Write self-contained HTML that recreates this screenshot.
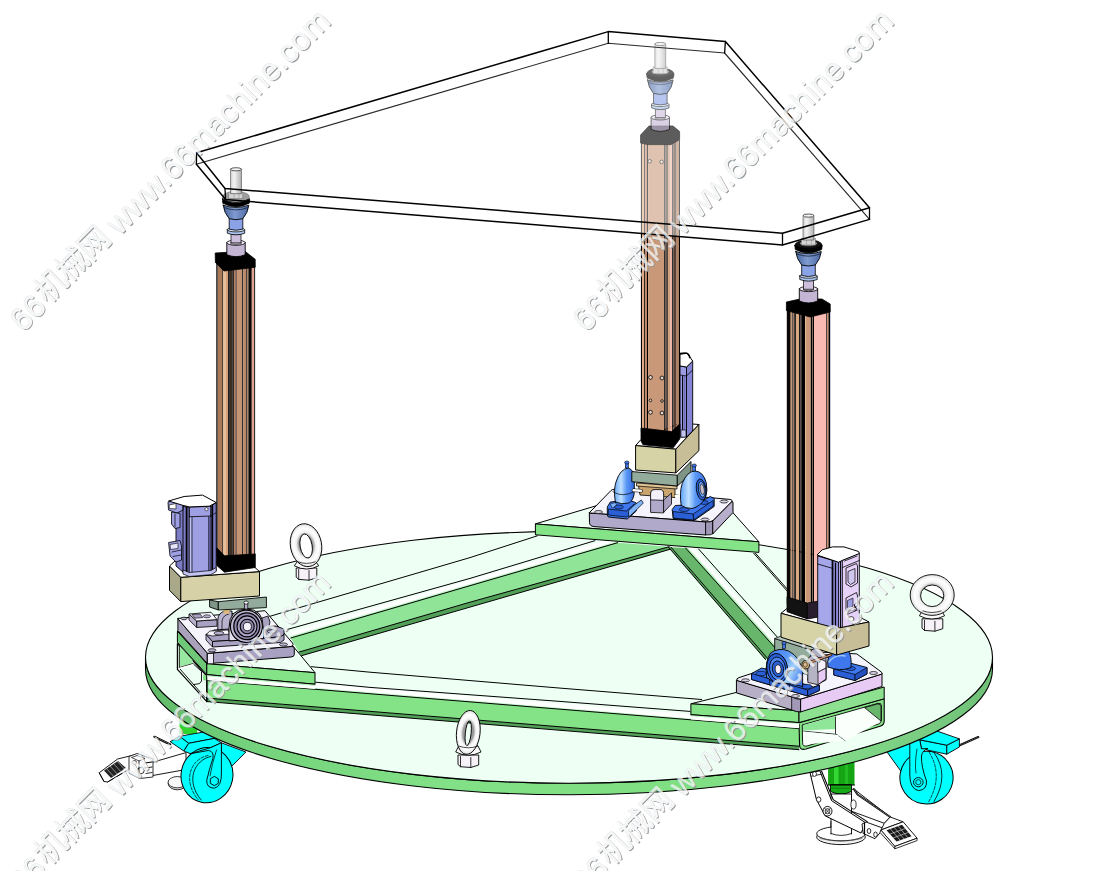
<!DOCTYPE html>
<html><head><meta charset="utf-8"><title>platform</title>
<style>html,body{margin:0;padding:0;background:#fff;}svg{display:block;font-family:"Liberation Sans",sans-serif;}</style>
</head><body>
<svg width="1110" height="871" viewBox="0 0 1110 871">
<rect width="1110" height="871" fill="#fff"/>
<defs>
<linearGradient id="rim" x1="145" x2="993" y1="0" y2="0" gradientUnits="userSpaceOnUse">
<stop offset="0" stop-color="#5fb868"/><stop offset="0.12" stop-color="#74d27c"/><stop offset="0.35" stop-color="#82e086"/>
<stop offset="0.6" stop-color="#7fdf82"/><stop offset="0.8" stop-color="#82dc88"/><stop offset="0.92" stop-color="#7acc82"/><stop offset="1" stop-color="#6ec076"/></linearGradient>
<mask id="wmm" maskUnits="userSpaceOnUse" x="-10" y="-40" width="480" height="60"><rect x="-10" y="-40" width="480" height="60" fill="#fff"/><g fill="#000"><text x="-3" y="0" font-size="32">66</text><text x="34.5" y="-2.5" font-size="31.5" letter-spacing="-1" font-family="'Liberation Sans','Noto Sans CJK SC',sans-serif">机械网</text><text x="134" y="0" font-size="31.9">www.66machine.com</text></g></mask>
<g id="wm"><g mask="url(#wmm)"><g fill="#8e999f" transform="translate(0.25,1.4)"><text x="-3" y="0" font-size="32">66</text><text x="34.5" y="-2.5" font-size="31.5" letter-spacing="-1" font-family="'Liberation Sans','Noto Sans CJK SC',sans-serif">机械网</text><text x="134" y="0" font-size="31.9">www.66machine.com</text></g>
<g fill="#dfe4e6" transform="translate(-0.1,-0.6)"><text x="-3" y="0" font-size="32">66</text><text x="34.5" y="-2.5" font-size="31.5" letter-spacing="-1" font-family="'Liberation Sans','Noto Sans CJK SC',sans-serif">机械网</text><text x="134" y="0" font-size="31.9">www.66machine.com</text></g></g>
<g fill="#f3f5f6" fill-opacity="0.78"><text x="-3" y="0" font-size="32">66</text><text x="34.5" y="-2.5" font-size="31.5" letter-spacing="-1" font-family="'Liberation Sans','Noto Sans CJK SC',sans-serif">机械网</text><text x="134" y="0" font-size="31.9">www.66machine.com</text></g></g>
</defs>
<rect x="179.6" y="716.0" width="17.6" height="18.0" fill="#2fd42f" stroke="none" stroke-width="1" />
<polygon points="150.0,763.0 186.0,752.6 186.0,769.5 150.0,776.0" fill="#fff" stroke="#000" stroke-width="0.9" stroke-linejoin="round" />
<polygon points="99.2,772.8 117.6,759.0 136.0,754.5 141.0,757.0 141.0,764.0 126.0,771.0 107.6,782.0 104.0,781.5" fill="#fff" stroke="#000" stroke-width="0.9" stroke-linejoin="round" />
<polygon points="104.0,770.5 118.0,761.0 126.0,768.0 111.0,778.0" fill="#222" stroke="none" stroke-width="1" stroke-linejoin="round" />
<line x1="106.5" y1="768.6" x2="113.5" y2="776.2" stroke="#ddd" stroke-width="0.6" stroke-linecap="round" />
<line x1="110.1" y1="766.2" x2="117.1" y2="773.8" stroke="#ddd" stroke-width="0.6" stroke-linecap="round" />
<line x1="113.7" y1="763.8" x2="120.7" y2="771.4" stroke="#ddd" stroke-width="0.6" stroke-linecap="round" />
<line x1="117.3" y1="761.4" x2="124.3" y2="769.0" stroke="#ddd" stroke-width="0.6" stroke-linecap="round" />
<line x1="99.2" y1="772.8" x2="104.0" y2="781.5" stroke="#000" stroke-width="0.9" stroke-linecap="round" />
<line x1="107.6" y1="782.0" x2="126.0" y2="771.0" stroke="#000" stroke-width="0.8" stroke-linecap="round" />
<polygon points="129.0,756.5 137.0,753.5 153.0,759.0 153.0,777.0 140.0,778.5 129.0,773.0" fill="#fff" stroke="#000" stroke-width="0.8" stroke-linejoin="round" />
<polygon points="131.5,757.5 137.0,755.5 145.0,758.5 139.0,761.0" fill="#fff" stroke="#000" stroke-width="0.7" stroke-linejoin="round" />
<ellipse cx="141.0" cy="770.5" rx="3.2" ry="3.2" fill="#fff" stroke="#000" stroke-width="0.8" />
<ellipse cx="134.5" cy="762.5" rx="2.0" ry="2.0" fill="#fff" stroke="#000" stroke-width="0.7" />
<line x1="139.0" y1="761.0" x2="139.0" y2="778.0" stroke="#000" stroke-width="0.8" stroke-linecap="round" />
<line x1="145.0" y1="763.0" x2="152.0" y2="762.0" stroke="#000" stroke-width="1.2" stroke-linecap="round" />
<line x1="145.0" y1="768.0" x2="152.0" y2="767.0" stroke="#000" stroke-width="0.9" stroke-linecap="round" />
<line x1="146.0" y1="773.5" x2="152.0" y2="772.5" stroke="#000" stroke-width="0.8" stroke-linecap="round" />
<polyline points="154.4,736.8 170.2,744.4" fill="none" stroke="#000" stroke-width="2.2" stroke-linejoin="round" stroke-linecap="round" />
<polyline points="154.4,736.8 170.2,744.4" fill="none" stroke="#aaa" stroke-width="0.6" stroke-linejoin="round" stroke-linecap="round" stroke-dasharray="1 1.2"/>
<ellipse cx="177.3" cy="783.4" rx="9.2" ry="6.4" fill="#d8d8d8" stroke="#000" stroke-width="0.8" />
<ellipse cx="177.3" cy="782.2" rx="9.2" ry="5.6" fill="#f8f8f8" stroke="#000" stroke-width="0.7" />
<polygon points="221.4,742.8 245.9,752.0 230.7,767.3 221.4,771.7" fill="#00ffff" stroke="#000" stroke-width="0.9" stroke-linejoin="round" />
<polygon points="179.4,736.3 232.0,727.0 250.0,745.0 214.3,738.4 188.7,743.3" fill="#00ffff" stroke="#000" stroke-width="0.9" stroke-linejoin="round" />
<polygon points="170.2,741.7 179.4,736.3 188.7,743.3 183.8,751.0" fill="#00ffff" stroke="#000" stroke-width="0.9" stroke-linejoin="round" />
<polygon points="183.8,751.0 188.7,743.3 214.3,738.4 221.4,742.8 210.5,747.7 190.3,753.7" fill="#00ffff" stroke="#000" stroke-width="0.9" stroke-linejoin="round" />
<ellipse cx="207.0" cy="775.2" rx="25.9" ry="27.6" fill="#00ffff" stroke="#000" stroke-width="1" transform="rotate(12 207 775.2)"/>
<path d="M211,756.4 C194,760 185,781 201.2,800" fill="none" stroke="#000" stroke-width="0.8" stroke-linejoin="round" stroke-linecap="round" />
<path d="M208,755.5 C191,759 182,780 198,799.5" fill="none" stroke="#000" stroke-width="0.7" stroke-linejoin="round" stroke-linecap="round" stroke-dasharray="3 1.5"/>
<path d="M190.3,753.7 L210.5,747.7 L221.4,742.8 L221.4,772 Q222,786.5 214.3,788.2 Q206.5,788 206.7,780.4 Q209,770 213,758 Q214,751.5 209,750.5 Z" fill="#00ffff" stroke="#000" stroke-width="0.9" stroke-linejoin="round" stroke-linecap="round" />
<path d="M216.5,750 Q212,764 210,776" fill="none" stroke="#000" stroke-width="0.7" stroke-linejoin="round" stroke-linecap="round" />
<polygon points="210.3,778.7 214.3,776.4 218.3,778.7 218.3,783.3 214.3,785.6 210.3,783.3" fill="#00ffff" stroke="#000" stroke-width="0.9" stroke-linejoin="round" />
<polyline points="958.0,746.0 978.3,737.1" fill="none" stroke="#000" stroke-width="2.2" stroke-linejoin="round" stroke-linecap="round" />
<polyline points="958.0,746.0 978.3,737.1" fill="none" stroke="#999" stroke-width="0.6" stroke-linejoin="round" stroke-linecap="round" stroke-dasharray="1 1.2"/>
<polygon points="887.3,752.4 916.0,736.0 916.0,776.0 901.7,772.3" fill="#00ffff" stroke="#000" stroke-width="0.9" stroke-linejoin="round" />
<polygon points="919.7,739.8 946.8,745.2 946.8,754.2 921.5,748.8" fill="#00ffff" stroke="#000" stroke-width="0.9" stroke-linejoin="round" />
<polygon points="946.8,745.2 959.4,738.9 959.4,747.0 946.8,754.2" fill="#00ffff" stroke="#000" stroke-width="0.9" stroke-linejoin="round" />
<polygon points="915.0,738.0 934.1,730.0 959.4,738.9 946.8,745.2 919.7,739.8" fill="#00ffff" stroke="#000" stroke-width="0.9" stroke-linejoin="round" />
<ellipse cx="926.5" cy="777.6" rx="26.6" ry="26.4" fill="#00ffff" stroke="#000" stroke-width="1" transform="rotate(10 926.5 777.6)"/>
<path d="M934,752.4 Q950,775 934,801.5" fill="none" stroke="#000" stroke-width="0.8" stroke-linejoin="round" stroke-linecap="round" />
<path d="M929,752 Q944,776 928,803" fill="none" stroke="#000" stroke-width="0.7" stroke-linejoin="round" stroke-linecap="round" stroke-dasharray="3 1.5"/>
<path d="M909.8,741 L909.8,775 Q910,789 918.5,790.6 Q927,790 926.5,781 Q921,766 921.5,756 Q922.5,750 928,748.6 L921.5,748.8 L919.7,739.8 Z" fill="#00ffff" stroke="#000" stroke-width="0.9" stroke-linejoin="round" stroke-linecap="round" />
<path d="M917,749 Q914.5,764 916,773" fill="none" stroke="#000" stroke-width="0.7" stroke-linejoin="round" stroke-linecap="round" />
<ellipse cx="918.3" cy="782.2" rx="4.8" ry="4.6" fill="#00ffff" stroke="#000" stroke-width="0.9" />
<ellipse cx="918.3" cy="782.2" rx="2.6" ry="2.5" fill="#00ffff" stroke="#000" stroke-width="0.7" />
<rect x="828.1" y="760.0" width="26.4" height="25.0" fill="#14a414" stroke="none" stroke-width="1" />
<rect x="834.0" y="760.0" width="4.5" height="25.0" fill="#34d634" stroke="none" stroke-width="1" />
<rect x="845.0" y="760.0" width="3.0" height="25.0" fill="#22bc22" stroke="none" stroke-width="1" />
<path d="M830.5,785 L830.5,791.5 Q841,796.5 851.5,791.5 L851.5,785 Z" fill="#16aa16" stroke="#000" stroke-width="0.9" stroke-linejoin="round" stroke-linecap="round" />
<line x1="828.1" y1="785.0" x2="854.5" y2="785.0" stroke="#000" stroke-width="1.2" stroke-linecap="round" />
<line x1="832.0" y1="788.2" x2="850.0" y2="788.2" stroke="#0c700c" stroke-width="0.8" stroke-linecap="round" />
<rect x="831.0" y="794.0" width="20.5" height="40.0" fill="#fff" stroke="#000" stroke-width="0.9" />
<ellipse cx="841.0" cy="837.0" rx="24.3" ry="7.6" fill="#f2f2f2" stroke="#000" stroke-width="0.9" />
<ellipse cx="841.0" cy="833.6" rx="24.3" ry="7.2" fill="#fff" stroke="#000" stroke-width="0.9" />
<rect x="831.5" y="822.0" width="19.5" height="12.5" fill="#fff" stroke="none" stroke-width="1" />
<line x1="831.0" y1="822.0" x2="831.0" y2="834.0" stroke="#000" stroke-width="0.9" stroke-linecap="round" />
<line x1="851.5" y1="822.0" x2="851.5" y2="834.0" stroke="#000" stroke-width="0.9" stroke-linecap="round" />
<path d="M831,833.5 Q841,837.5 851.5,833.5" fill="none" stroke="#000" stroke-width="0.8" stroke-linejoin="round" stroke-linecap="round" />
<path d="M820,838.5 Q841,844 862,838.5" fill="none" stroke="#555" stroke-width="0.6" stroke-linejoin="round" stroke-linecap="round" />
<polygon points="851.5,789.5 853.9,789.0 890.2,817.0 884.3,823.3 851.5,811.2" fill="#fff" stroke="#000" stroke-width="0.9" stroke-linejoin="round" />
<ellipse cx="853.5" cy="804.5" rx="2.6" ry="4.6" fill="#fff" stroke="#000" stroke-width="0.8" />
<polyline points="853.9,789.0 857.5,794.5 890.2,817.0" fill="none" stroke="#000" stroke-width="2" stroke-linejoin="round" stroke-linecap="round" />
<polyline points="853.9,789.0 857.5,794.5 890.2,817.0" fill="none" stroke="#bbb" stroke-width="0.6" stroke-linejoin="round" stroke-linecap="round" stroke-dasharray="1 1.1"/>
<polygon points="810.0,772.6 819.9,770.8 823.0,779.0 831.6,800.7 866.0,823.0 861.0,833.0 825.2,815.9 816.4,799.5" fill="#fff" stroke="#000" stroke-width="1" stroke-linejoin="round" />
<polyline points="821.6,771.2 833.2,799.6 867.2,821.6" fill="none" stroke="#000" stroke-width="1.1" stroke-linejoin="round" stroke-linecap="round" />
<line x1="811.5" y1="776.2" x2="821.0" y2="774.3" stroke="#000" stroke-width="0.8" stroke-linecap="round" />
<ellipse cx="827.5" cy="811.2" rx="4.5" ry="4.8" fill="#fff" stroke="#000" stroke-width="0.9" />
<ellipse cx="827.5" cy="811.2" rx="2.4" ry="2.6" fill="#e8e8e8" stroke="#000" stroke-width="0.7" />
<line x1="824.5" y1="808.0" x2="830.5" y2="814.4" stroke="#000" stroke-width="0.6" stroke-linecap="round" />
<line x1="830.5" y1="808.0" x2="824.5" y2="814.4" stroke="#000" stroke-width="0.6" stroke-linecap="round" />
<ellipse cx="818.7" cy="799.5" rx="2.2" ry="2.6" fill="#fff" stroke="#000" stroke-width="0.8" />
<ellipse cx="814.5" cy="774.0" rx="2.0" ry="2.4" fill="#fff" stroke="#000" stroke-width="0.7" />
<polygon points="862.0,824.0 866.0,822.0 884.0,828.5 882.0,830.5 875.0,838.7 863.2,833.5" fill="#fff" stroke="#000" stroke-width="0.9" stroke-linejoin="round" />
<line x1="864.5" y1="823.0" x2="864.5" y2="834.0" stroke="#000" stroke-width="1.2" stroke-linecap="round" />
<ellipse cx="869.0" cy="831.0" rx="1.8" ry="2.5" fill="#fff" stroke="#000" stroke-width="0.8" />
<ellipse cx="875.5" cy="834.5" rx="1.8" ry="2.5" fill="#fff" stroke="#000" stroke-width="0.8" />
<polygon points="884.3,823.3 890.2,817.0 903.1,821.8 881.0,830.0" fill="#fff" stroke="#000" stroke-width="0.9" stroke-linejoin="round" />
<polygon points="880.8,830.0 903.1,821.8 917.1,838.2 894.9,846.4" fill="#fff" stroke="#000" stroke-width="0.9" stroke-linejoin="round" />
<polygon points="880.8,830.0 894.9,846.4 894.9,848.8 880.0,832.4" fill="#fff" stroke="#000" stroke-width="0.8" stroke-linejoin="round" />
<polygon points="894.9,846.4 917.1,838.2 917.1,840.6 894.9,848.8" fill="#fff" stroke="#000" stroke-width="0.8" stroke-linejoin="round" />
<polygon points="886.5,830.3 902.0,824.8 911.5,836.2 896.5,841.6" fill="#1a1a1a" stroke="none" stroke-width="1" stroke-linejoin="round" />
<line x1="890.4" y1="828.9" x2="900.2" y2="840.2" stroke="#e0e0e0" stroke-width="0.6" stroke-linecap="round" />
<line x1="894.3" y1="827.5" x2="904.0" y2="838.9" stroke="#e0e0e0" stroke-width="0.6" stroke-linecap="round" />
<line x1="898.2" y1="826.2" x2="907.8" y2="837.6" stroke="#e0e0e0" stroke-width="0.6" stroke-linecap="round" />
<line x1="889.8" y1="834.1" x2="905.2" y2="828.6" stroke="#e0e0e0" stroke-width="0.6" stroke-linecap="round" />
<line x1="893.1" y1="837.9" x2="908.4" y2="832.4" stroke="#e0e0e0" stroke-width="0.6" stroke-linecap="round" />
<path d="M145.5,657.3 L145.5,668.9 A423.5,125.9 0 0 0 992.5,668.9 L992.5,657.3 A423.5,125.9 0 0 1 145.5,657.3 Z" fill="url(#rim)" stroke="#000" stroke-width="1.1" stroke-linejoin="round" stroke-linecap="round" />
<ellipse cx="569.0" cy="657.3" rx="423.5" ry="125.9" fill="#eefff4" stroke="#000" stroke-width="1.1" />
<linearGradient id="hlA" gradientUnits="userSpaceOnUse" x1="470" y1="585.7" x2="468.2" y2="579.5"><stop offset="0" stop-color="#8fe89a"/><stop offset="0.35" stop-color="#ffffff"/><stop offset="0.75" stop-color="#ffffff"/><stop offset="1" stop-color="#ebfef2"/></linearGradient>
<polygon points="290.8,638.0 470.0,585.7 617.7,542.7 617.7,540.7 617.7,536.3 470.0,579.3 290.8,631.6" fill="url(#hlA)" stroke="none" stroke-width="1" stroke-linejoin="round" />
<polygon points="290.8,638.0 470.0,585.7 617.7,542.7 669.2,546.7 470.0,602.2 298.9,652.1" fill="#90e498" stroke="none" stroke-width="1" stroke-linejoin="round" />
<polygon points="298.9,652.1 470.0,602.2 669.2,546.7 672.2,548.7 470.0,607.1 301.6,655.7" fill="#52a058" stroke="none" stroke-width="1" stroke-linejoin="round" />
<polyline points="268.0,616.9 280.0,613.3 470.0,557.6 537.4,535.8" fill="none" stroke="#000" stroke-width="1" stroke-linejoin="round" stroke-linecap="round" />
<polyline points="287.2,629.5 470.0,578.4 594.9,540.7" fill="none" stroke="#000" stroke-width="1" stroke-linejoin="round" stroke-linecap="round" />
<polyline points="290.8,638.0 470.0,585.7 617.7,542.7" fill="none" stroke="#000" stroke-width="1" stroke-linejoin="round" stroke-linecap="round" />
<polyline points="298.9,652.1 470.0,602.2 669.2,546.7" fill="none" stroke="#000" stroke-width="1" stroke-linejoin="round" stroke-linecap="round" />
<polyline points="301.6,655.7 470.0,607.1 672.2,548.7" fill="none" stroke="#000" stroke-width="1" stroke-linejoin="round" stroke-linecap="round" />
<linearGradient id="hlB" gradientUnits="userSpaceOnUse" x1="730" y1="597.5" x2="735.2" y2="592.84"><stop offset="0" stop-color="#7fe68a"/><stop offset="0.4" stop-color="#ffffff"/><stop offset="0.7" stop-color="#ffffff"/><stop offset="1" stop-color="#ebfef2"/></linearGradient>
<polygon points="685.6,548.0 776.0,648.8 783.0,643.0 692.6,542.2" fill="url(#hlB)" stroke="none" stroke-width="1" stroke-linejoin="round" />
<polygon points="668.5,547.2 765.5,659.5 767.5,658.3 671.0,547.2" fill="#52a058" stroke="none" stroke-width="1" stroke-linejoin="round" />
<polygon points="671.0,547.2 767.5,658.3 776.0,648.8 685.6,548.0" fill="#68b66c" stroke="none" stroke-width="1" stroke-linejoin="round" />
<polyline points="668.5,547.2 765.5,659.5" fill="none" stroke="#000" stroke-width="1" stroke-linejoin="round" stroke-linecap="round" />
<polyline points="671.0,547.2 767.5,658.3" fill="none" stroke="#000" stroke-width="1" stroke-linejoin="round" stroke-linecap="round" />
<polyline points="685.6,548.0 776.0,648.8" fill="none" stroke="#000" stroke-width="1" stroke-linejoin="round" stroke-linecap="round" />
<polyline points="698.6,549.0 777.8,637.6" fill="none" stroke="#000" stroke-width="1" stroke-linejoin="round" stroke-linecap="round" />
<polyline points="753.7,553.3 788.0,592.0" fill="none" stroke="#000" stroke-width="1" stroke-linejoin="round" stroke-linecap="round" />
<polyline points="755.5,553.3 789.5,591.6" fill="none" stroke="#000" stroke-width="1" stroke-linejoin="round" stroke-linecap="round" />
<linearGradient id="hlC" gradientUnits="userSpaceOnUse" x1="500" y1="704.34" x2="500.53" y2="697.84"><stop offset="0" stop-color="#8fe89a"/><stop offset="0.3" stop-color="#ffffff"/><stop offset="0.75" stop-color="#ffffff"/><stop offset="1" stop-color="#ebfef2"/></linearGradient>
<polygon points="207.0,680.5 799.0,728.6 799.0,722.1 207.0,674.0" fill="url(#hlC)" stroke="none" stroke-width="1" stroke-linejoin="round" />
<polygon points="207.0,680.5 799.0,728.6 799.0,746.2 207.0,698.1" fill="#85e387" stroke="none" stroke-width="1" stroke-linejoin="round" />
<polygon points="207.0,698.1 799.0,746.2 799.0,749.7 207.0,701.6" fill="#52a058" stroke="none" stroke-width="1" stroke-linejoin="round" />
<polyline points="311.3,666.7 370.0,672.2 560.0,688.1 701.7,699.5" fill="none" stroke="#000" stroke-width="1" stroke-linejoin="round" stroke-linecap="round" />
<polyline points="315.9,682.2 370.0,687.4 560.0,701.4 690.0,711.4" fill="none" stroke="#000" stroke-width="1" stroke-linejoin="round" stroke-linecap="round" />
<polyline points="207.0,680.5 799.0,728.6" fill="none" stroke="#000" stroke-width="1" stroke-linejoin="round" stroke-linecap="round" />
<polyline points="207.0,698.1 799.0,746.2" fill="none" stroke="#000" stroke-width="1" stroke-linejoin="round" stroke-linecap="round" />
<polyline points="207.0,701.6 799.0,749.7" fill="none" stroke="#000" stroke-width="1" stroke-linejoin="round" stroke-linecap="round" />
<polygon points="177.4,643.6 206.8,676.0 206.8,701.6 177.4,669.4" fill="#eefff4" stroke="#000" stroke-width="1.2" stroke-linejoin="round" />
<polygon points="179.3,645.5 192.6,660.0 192.6,663.2 179.3,667.0" fill="#98e8a2" stroke="none" stroke-width="1" stroke-linejoin="round" />
<polyline points="179.3,646.0 179.3,668.2 205.0,697.5" fill="none" stroke="#000" stroke-width="0.9" stroke-linejoin="round" stroke-linecap="round" />
<polyline points="179.3,667.6 193.0,663.6 201.5,671.5 201.5,681.0 199.5,683.6 193.5,684.6" fill="none" stroke="#000" stroke-width="0.9" stroke-linejoin="round" stroke-linecap="round" />
<line x1="179.3" y1="668.4" x2="193.0" y2="664.6" stroke="#fff" stroke-width="1.2" stroke-linecap="round" />
<polygon points="203.0,674.5 206.8,676.0 206.8,681.0 203.0,680.0" fill="#85e387" stroke="none" stroke-width="1" stroke-linejoin="round" />
<polygon points="177.4,631.2 206.8,663.7 315.0,672.7 268.0,616.0 262.0,614.5 200.0,622.0" fill="#eefff4" stroke="#000" stroke-width="1" stroke-linejoin="round" />
<polygon points="177.4,631.2 206.8,663.7 206.8,674.6 177.4,642.3" fill="#6fc878" stroke="#000" stroke-width="1" stroke-linejoin="round" />
<polygon points="206.8,663.7 315.0,672.7 315.0,684.2 206.8,674.6" fill="#85e387" stroke="#000" stroke-width="1" stroke-linejoin="round" />
<line x1="206.8" y1="674.6" x2="206.8" y2="701.6" stroke="#000" stroke-width="1.2" stroke-linecap="round" />
<polygon points="177.9,618.7 207.5,653.3 207.5,663.7 177.9,630.6" fill="#aaa2bc" stroke="#000" stroke-width="1" stroke-linejoin="round" />
<path d="M207.5,653.3 L290,646.6 Q294.3,646 294.3,649 L294.3,654.5 Q294.3,656.8 291,657 L207.5,663.7 Z" fill="#a9a1c1" stroke="#000" stroke-width="1" stroke-linejoin="round" stroke-linecap="round" />
<rect x="208.0" y="654.0" width="5.5" height="9.3" fill="#efecf8" stroke="none" stroke-width="1" />
<line x1="213.5" y1="653.0" x2="213.5" y2="663.2" stroke="#000" stroke-width="0.8" stroke-linecap="round" />
<path d="M177.9,618.7 L207.5,653.3 L290,646.6 Q294.5,646 292.5,643 L265.2,611 Z" fill="#f5f3fb" stroke="#000" stroke-width="1" stroke-linejoin="round" stroke-linecap="round" />
<ellipse cx="212.0" cy="650.3" rx="4.0" ry="1.6" fill="#b9b2cf" stroke="#000" stroke-width="0.7" />
<ellipse cx="283.5" cy="644.5" rx="4.0" ry="1.6" fill="#b9b2cf" stroke="#000" stroke-width="0.7" />
<ellipse cx="184.0" cy="618.5" rx="3.0" ry="1.3" fill="#b9b2cf" stroke="#000" stroke-width="0.7" />
<polygon points="189.0,614.0 196.7,621.0 196.7,627.5 189.0,619.9" fill="#b9b2cf" stroke="#000" stroke-width="0.8" stroke-linejoin="round" />
<polygon points="196.7,621.0 217.0,619.6 217.0,626.2 196.7,627.5" fill="#a9a1c1" stroke="#000" stroke-width="0.8" stroke-linejoin="round" />
<polygon points="189.0,614.0 211.0,612.2 217.0,619.6 196.7,621.0" fill="#f5f3fb" stroke="#000" stroke-width="0.8" stroke-linejoin="round" />
<polygon points="192.0,614.6 200.0,614.0 203.0,617.5 195.0,618.2" fill="#a9a1c1" stroke="#000" stroke-width="0.6" stroke-linejoin="round" />
<ellipse cx="207.0" cy="616.3" rx="3.6" ry="1.5" fill="#b9b2cf" stroke="#000" stroke-width="0.6" />
<path d="M217.8,633 L217.8,620 Q218,612 226,611 L232,611 L232,633 Z" fill="#b9b2cf" stroke="#000" stroke-width="0.9" stroke-linejoin="round" stroke-linecap="round" />
<path d="M222,633 L222,621 Q223,615 229,614" fill="none" stroke="#000" stroke-width="0.7" stroke-linejoin="round" stroke-linecap="round" />
<rect x="223.5" y="609.0" width="6.0" height="5.0" fill="#d8b880" stroke="none" stroke-width="1" />
<polygon points="209.6,600.0 218.3,601.7 218.3,610.0 209.6,607.0" fill="#7f9686" stroke="#000" stroke-width="0.9" stroke-linejoin="round" />
<polygon points="218.3,601.7 266.4,597.0 266.4,607.6 218.3,610.0" fill="#93ab9b" stroke="#000" stroke-width="0.9" stroke-linejoin="round" />
<polygon points="206.0,634.5 212.5,641.5 280.4,636.9 284.0,634.5 284.0,629.0 276.0,626.0 214.0,630.0" fill="#a9a1c1" stroke="#000" stroke-width="0.9" stroke-linejoin="round" />
<polygon points="206.0,634.5 212.5,641.5 212.5,647.0 206.0,640.0" fill="#b9b2cf" stroke="#000" stroke-width="0.8" stroke-linejoin="round" />
<polygon points="212.5,641.5 280.4,636.9 284.0,634.5 284.0,640.0 280.4,642.5 212.5,647.0" fill="#a9a1c1" stroke="#000" stroke-width="0.9" stroke-linejoin="round" />
<polygon points="206.0,634.5 210.0,631.0 228.0,630.0 230.0,634.0 212.5,636.0" fill="#f5f3fb" stroke="#000" stroke-width="0.7" stroke-linejoin="round" />
<ellipse cx="219.0" cy="633.2" rx="5.0" ry="1.8" fill="#b9b2cf" stroke="#000" stroke-width="0.7" />
<ellipse cx="272.0" cy="631.5" rx="4.5" ry="1.7" fill="#b9b2cf" stroke="#000" stroke-width="0.7" />
<path d="M229,640.6 L229,628 Q229,609 246.4,609 Q263.5,609 263.5,628 L263.5,638.3 Z" fill="#e4e0f0" stroke="#000" stroke-width="1" stroke-linejoin="round" stroke-linecap="round" />
<ellipse cx="246.4" cy="626.3" rx="16.0" ry="16.2" fill="#bdb6d2" stroke="#000" stroke-width="1.1" />
<ellipse cx="246.8" cy="626.3" rx="13.0" ry="13.4" fill="#938bb0" stroke="#000" stroke-width="1.3" />
<ellipse cx="247.0" cy="626.4" rx="10.0" ry="10.5" fill="#aaa2c4" stroke="#000" stroke-width="1.1" />
<ellipse cx="247.2" cy="626.5" rx="7.0" ry="7.3" fill="#8f87ac" stroke="#000" stroke-width="1.1" />
<ellipse cx="247.4" cy="626.6" rx="4.0" ry="4.2" fill="#f6f2fa" stroke="#000" stroke-width="0.8" />
<rect x="244.4" y="603.0" width="3.4" height="6.0" fill="#b9b2cf" stroke="#000" stroke-width="0.7" />
<ellipse cx="246.1" cy="602.6" rx="2.2" ry="1.6" fill="#f5f3fb" stroke="#000" stroke-width="0.7" />
<polygon points="262.0,618.0 268.0,616.0 270.0,622.0 268.0,630.0 263.5,630.0" fill="#a9a1c1" stroke="#000" stroke-width="0.8" stroke-linejoin="round" />
<polygon points="169.5,566.0 180.8,577.3 180.8,601.6 169.5,590.3" fill="#a9a98a" stroke="#000" stroke-width="1" stroke-linejoin="round" />
<polygon points="180.8,577.3 259.5,571.6 259.5,596.0 180.8,601.6" fill="#d6d1a6" stroke="#000" stroke-width="1" stroke-linejoin="round" />
<polygon points="169.5,566.0 180.8,577.3 259.5,571.6 250.0,563.0 176.0,560.0" fill="#fff" stroke="#000" stroke-width="1" stroke-linejoin="round" />
<polygon points="207.4,675.0 315.0,684.6 315.0,689.0 207.4,680.2" fill="#fff" stroke="none" stroke-width="1" stroke-linejoin="round" />
<line x1="207.4" y1="675.6" x2="315.0" y2="685.2" stroke="#b5f0bb" stroke-width="1.4" stroke-linecap="round" />
<line x1="206.8" y1="674.6" x2="315.0" y2="684.2" stroke="#000" stroke-width="1" stroke-linecap="round" />
<rect x="216.3" y="262.0" width="1.4" height="294.5" fill="#000" stroke="none" stroke-width="1" />
<rect x="217.7" y="262.0" width="4.5" height="294.5" fill="#a87a5a" stroke="none" stroke-width="1" />
<rect x="222.2" y="262.0" width="1.1" height="294.5" fill="#2a1a10" stroke="none" stroke-width="1" />
<rect x="223.3" y="262.0" width="2.2" height="294.5" fill="#ebbb93" stroke="none" stroke-width="1" />
<rect x="225.5" y="262.0" width="2.6" height="294.5" fill="#d39f7b" stroke="none" stroke-width="1" />
<rect x="228.1" y="262.0" width="1.7" height="294.5" fill="#0a0604" stroke="none" stroke-width="1" />
<rect x="229.8" y="262.0" width="2.6" height="294.5" fill="#3c2e22" stroke="none" stroke-width="1" />
<rect x="232.4" y="262.0" width="1.5" height="294.5" fill="#0a0604" stroke="none" stroke-width="1" />
<rect x="233.9" y="262.0" width="1.7" height="294.5" fill="#b88060" stroke="none" stroke-width="1" />
<rect x="235.6" y="262.0" width="1.1" height="294.5" fill="#1a0e08" stroke="none" stroke-width="1" />
<rect x="236.7" y="262.0" width="5.5" height="294.5" fill="#c49474" stroke="none" stroke-width="1" />
<rect x="242.2" y="262.0" width="1.0" height="294.5" fill="#000" stroke="none" stroke-width="1" />
<rect x="243.2" y="262.0" width="3.1" height="294.5" fill="#b98969" stroke="none" stroke-width="1" />
<rect x="246.3" y="262.0" width="0.8" height="294.5" fill="#000" stroke="none" stroke-width="1" />
<rect x="247.1" y="262.0" width="1.3" height="294.5" fill="#a87858" stroke="none" stroke-width="1" />
<rect x="248.4" y="262.0" width="3.4" height="294.5" fill="#0c0806" stroke="none" stroke-width="1" />
<rect x="251.8" y="262.0" width="2.4" height="294.5" fill="#e0a391" stroke="none" stroke-width="1" />
<rect x="254.2" y="262.0" width="0.9" height="294.5" fill="#000" stroke="none" stroke-width="1" />
<polygon points="216.5,547.6 224.5,555.8 255.3,553.9 255.3,567.5 224.5,572.2 216.5,565.3" fill="#000" stroke="#000" stroke-width="0.8" stroke-linejoin="round" />
<polygon points="215.2,253.0 245.0,251.3 255.2,259.3 255.2,267.3 224.0,271.0 215.4,262.5" fill="#000" stroke="#000" stroke-width="0.8" stroke-linejoin="round" />
<polygon points="176.0,506.0 189.3,507.0 189.3,575.5 183.0,572.0 176.0,566.0" fill="#7c7cc6" stroke="#000" stroke-width="0.9" stroke-linejoin="round" />
<polygon points="168.0,502.0 179.0,499.5 183.0,503.0 183.0,510.0 177.0,513.0 168.5,510.0" fill="#9f9fe3" stroke="#000" stroke-width="0.8" stroke-linejoin="round" />
<polygon points="169.0,505.0 176.0,503.5 176.0,509.0 169.5,508.5" fill="#fff" stroke="#000" stroke-width="0.6" stroke-linejoin="round" />
<polygon points="171.5,512.0 180.0,513.5 180.0,527.5 175.0,528.5 171.5,524.0" fill="#9f9fe3" stroke="#000" stroke-width="0.8" stroke-linejoin="round" />
<line x1="175.0" y1="514.0" x2="175.0" y2="527.0" stroke="#000" stroke-width="0.7" stroke-linecap="round" />
<polygon points="168.6,542.5 180.0,540.5 181.5,546.0 181.5,560.0 176.0,562.0 170.0,556.0" fill="#9f9fe3" stroke="#000" stroke-width="0.8" stroke-linejoin="round" />
<polygon points="170.0,544.5 178.0,543.0 178.0,548.5 170.5,549.5" fill="#e4e4fa" stroke="#000" stroke-width="0.6" stroke-linejoin="round" />
<line x1="172.0" y1="552.0" x2="181.0" y2="550.0" stroke="#000" stroke-width="0.7" stroke-linecap="round" />
<line x1="173.0" y1="556.5" x2="181.0" y2="555.0" stroke="#000" stroke-width="0.7" stroke-linecap="round" />
<polygon points="189.3,507.0 211.0,506.3 211.0,573.5 189.3,575.5" fill="#9f9fe3" stroke="#000" stroke-width="0.9" stroke-linejoin="round" />
<polygon points="211.0,506.3 216.2,502.5 216.2,570.8 211.0,573.5" fill="#7c7cc6" stroke="#000" stroke-width="0.9" stroke-linejoin="round" />
<line x1="189.3" y1="516.8" x2="211.0" y2="516.0" stroke="#000" stroke-width="0.8" stroke-linecap="round" />
<line x1="211.0" y1="516.0" x2="216.2" y2="512.5" stroke="#000" stroke-width="0.7" stroke-linecap="round" />
<rect x="189.8" y="517.5" width="1.6" height="55.0" fill="#c4c4f2" stroke="none" stroke-width="1" />
<rect x="209.0" y="517.0" width="1.4" height="55.0" fill="#6a6ab4" stroke="none" stroke-width="1" />
<line x1="192.0" y1="517.0" x2="192.0" y2="574.5" stroke="#000" stroke-width="0.7" stroke-linecap="round" />
<line x1="208.7" y1="516.5" x2="208.7" y2="573.5" stroke="#000" stroke-width="0.7" stroke-linecap="round" />
<line x1="186.6" y1="507.0" x2="186.6" y2="573.5" stroke="#000" stroke-width="1.8" stroke-linecap="round" />
<line x1="183.0" y1="506.6" x2="183.0" y2="572.0" stroke="#000" stroke-width="0.9" stroke-linecap="round" />
<line x1="212.4" y1="505.5" x2="212.4" y2="572.5" stroke="#000" stroke-width="1.6" stroke-linecap="round" />
<polygon points="183.0,570.0 189.3,572.5 211.0,570.5 216.2,567.5 216.2,571.5 211.0,574.6 189.3,576.5 183.0,574.0" fill="#c4c4f2" stroke="#000" stroke-width="0.7" stroke-linejoin="round" />
<polygon points="168.6,501.0 184.1,496.5 202.5,495.1 216.2,502.5 209.3,506.2 189.3,506.9 183.0,505.4" fill="#fff" stroke="#000" stroke-width="1" stroke-linejoin="round" />
<ellipse cx="206.5" cy="509.2" rx="1.6" ry="1.6" fill="#fff" stroke="#000" stroke-width="0.6" />
<polygon points="535.4,523.9 596.1,505.8 606.0,500.0 724.0,505.0 732.5,512.2 758.9,541.8" fill="#eefff4" stroke="#000" stroke-width="1" stroke-linejoin="round" />
<polygon points="535.4,523.9 758.9,541.8 758.9,552.4 535.4,534.8" fill="#85e387" stroke="#000" stroke-width="1" stroke-linejoin="round" />
<path d="M589.3,512.7 L592,510 L611,490.5 Q612.4,489 615,489.3 L729,499.3 Q733.5,499.7 731.5,502 L713,520.7 Q711,522.3 706,522 L593,513.3 Z" fill="#f5f3fb" stroke="#000" stroke-width="1" stroke-linejoin="round" stroke-linecap="round" />
<path d="M589.3,512.7 Q589.3,514 593,513.3 L706,522 L706,535 L594,526.6 Q589.5,526 589.5,523 Z" fill="#b1a9c9" stroke="#000" stroke-width="1" stroke-linejoin="round" stroke-linecap="round" />
<path d="M706,522 Q711,522.3 713,520.7 L713,533.7 Q711,535.2 706,535 Z" fill="#9d96b4" stroke="#000" stroke-width="0.8" stroke-linejoin="round" stroke-linecap="round" />
<path d="M713,520.7 L731.5,502 Q733,500.6 733,503 L733,512.5 L713,533.7 Z" fill="#b6aecb" stroke="#000" stroke-width="1" stroke-linejoin="round" stroke-linecap="round" />
<ellipse cx="598.5" cy="512.0" rx="4.0" ry="1.5" fill="#d8d3e6" stroke="#000" stroke-width="0.7" />
<ellipse cx="617.0" cy="491.5" rx="4.0" ry="1.5" fill="#d8d3e6" stroke="#000" stroke-width="0.7" />
<ellipse cx="724.0" cy="501.5" rx="4.0" ry="1.5" fill="#d8d3e6" stroke="#000" stroke-width="0.7" />
<ellipse cx="705.0" cy="519.5" rx="4.0" ry="1.5" fill="#d8d3e6" stroke="#000" stroke-width="0.7" />
<g transform="translate(607.3,497.0)">
<polygon points="0.0,10.0 3.0,5.0 22.0,3.0 29.0,6.0 29.0,14.0 20.0,22.0 1.0,20.0 0.0,18.0" fill="#3f78ee" stroke="#000" stroke-width="0.9" stroke-linejoin="round" />
<polygon points="1.0,12.0 19.0,14.0 27.0,7.0 27.0,12.5 19.5,20.0 1.0,18.0" fill="#2b5fd6" stroke="#000" stroke-width="0.7" stroke-linejoin="round" />
<polygon points="3.0,7.0 8.0,5.5 10.0,9.0 5.0,11.0" fill="#7fb4fa" stroke="#000" stroke-width="0.5" stroke-linejoin="round" />
<ellipse cx="11.5" cy="10.0" rx="4.5" ry="2.0" fill="#2b5fd6" stroke="#000" stroke-width="0.6" />
<polygon points="21.0,14.0 27.0,8.0 34.0,3.0 36.0,6.0 28.0,14.0 21.5,20.0" fill="#7fb4fa" stroke="#000" stroke-width="0.7" stroke-linejoin="round" />
<linearGradient id="dm607" x1="6" x2="28" y1="0" y2="0" gradientUnits="userSpaceOnUse"><stop offset="0" stop-color="#5aa0f8"/><stop offset="0.35" stop-color="#bfe0ff"/><stop offset="0.6" stop-color="#5a98f6"/><stop offset="1" stop-color="#2d62da"/></linearGradient>
<path d="M8,5 Q6,-8 9,-16 Q13,-28 21,-29 Q27,-27 27,-18 L27,-6 Q27,2 22,6 Q14,8 8,5 Z" fill="url(#dm607)" stroke="#000" stroke-width="0.9" stroke-linejoin="round" stroke-linecap="round" />
<path d="M8,-4 Q16,0 26,-5" fill="none" stroke="#000" stroke-width="0.7" stroke-linejoin="round" stroke-linecap="round" />
<rect x="18.0" y="-34.0" width="3.0" height="5.0" fill="#3f78ee" stroke="#000" stroke-width="0.6" />
<ellipse cx="19.5" cy="-34.5" rx="2.2" ry="1.5" fill="#3f78ee" stroke="#000" stroke-width="0.6" />
</g>
<polygon points="638.3,484.5 675.0,487.4 675.0,497.5 640.0,495.0" fill="#c9a46e" stroke="#000" stroke-width="0.8" stroke-linejoin="round" />
<polygon points="636.5,483.0 677.0,486.0 677.0,489.0 636.5,486.0" fill="#e2c594" stroke="#000" stroke-width="0.7" stroke-linejoin="round" />
<line x1="633.5" y1="490.3" x2="641.0" y2="490.8" stroke="#000" stroke-width="3.6" stroke-linecap="round" />
<line x1="633.5" y1="490.3" x2="641.0" y2="490.8" stroke="#fff" stroke-width="2.4" stroke-linecap="round" />
<line x1="676.0" y1="496.0" x2="687.0" y2="494.5" stroke="#fff" stroke-width="2.8" stroke-linecap="round" />
<path d="M650.6,512 L650.6,494 Q650.6,489.6 655,489.6 L660,489.6 Q663.6,489.6 663.6,494 L663.6,512.5 Z" fill="#b1a9c9" stroke="#000" stroke-width="0.8" stroke-linejoin="round" stroke-linecap="round" />
<path d="M650.6,499.5 L650.6,494 Q650.6,489.6 655,489.6 L660,489.6 Q663.6,489.6 663.6,494 L663.6,500 Z" fill="#f4f0fa" stroke="#000" stroke-width="0.7" stroke-linejoin="round" stroke-linecap="round" />
<polygon points="663.6,500.0 671.5,493.0 671.5,504.0 663.6,512.5" fill="#a8a0be" stroke="#000" stroke-width="0.8" stroke-linejoin="round" />
<polygon points="631.8,471.6 677.3,475.2 677.3,486.0 631.8,481.7" fill="#93ab9b" stroke="#000" stroke-width="0.9" stroke-linejoin="round" />
<polygon points="677.3,475.2 691.0,461.5 691.0,473.7 677.3,486.0" fill="#7f9686" stroke="#000" stroke-width="0.9" stroke-linejoin="round" />
<g transform="translate(672.2,500.5)">
<polygon points="0.0,9.0 3.0,5.0 24.0,4.0 38.0,-4.0 42.0,-2.0 42.0,6.0 22.0,20.0 1.0,18.0" fill="#3f78ee" stroke="#000" stroke-width="0.9" stroke-linejoin="round" />
<polygon points="1.0,11.0 21.0,13.5 21.5,19.5 1.0,17.5" fill="#2b5fd6" stroke="#000" stroke-width="0.7" stroke-linejoin="round" />
<polygon points="21.0,13.5 41.0,0.0 41.0,5.5 21.5,19.5" fill="#2b5fd6" stroke="#000" stroke-width="0.7" stroke-linejoin="round" />
<ellipse cx="12.0" cy="9.0" rx="5.0" ry="2.0" fill="#2b5fd6" stroke="#000" stroke-width="0.6" />
<ellipse cx="32.0" cy="2.0" rx="4.0" ry="2.0" fill="#2b5fd6" stroke="#000" stroke-width="0.6" />
<linearGradient id="dmr" x1="8" x2="36" y1="0" y2="0" gradientUnits="userSpaceOnUse"><stop offset="0" stop-color="#5aa0f8"/><stop offset="0.3" stop-color="#bfe0ff"/><stop offset="0.55" stop-color="#5a98f6"/><stop offset="1" stop-color="#2d62da"/></linearGradient>
<path d="M9,5 Q7,-8 10,-17 Q15,-29.5 23,-29.5 Q31,-29 34,-18 Q36,-10 33,-2 Q28,6 20,8 Q13,8 9,5 Z" fill="url(#dmr)" stroke="#000" stroke-width="0.9" stroke-linejoin="round" stroke-linecap="round" />
<g transform="rotate(-8 29 -11)">
<ellipse cx="29.0" cy="-11.0" rx="4.8" ry="10.5" fill="#2b5fd6" stroke="#000" stroke-width="0.8" />
<ellipse cx="29.6" cy="-11.0" rx="3.3" ry="8.0" fill="#6aa4f6" stroke="#000" stroke-width="0.7" />
<ellipse cx="30.0" cy="-11.0" rx="2.0" ry="5.2" fill="#c8c0d0" stroke="#000" stroke-width="0.6" />
</g>
<rect x="20.5" y="-34.5" width="3.0" height="5.0" fill="#3f78ee" stroke="#000" stroke-width="0.6" />
<ellipse cx="22.0" cy="-35.0" rx="2.2" ry="1.5" fill="#3f78ee" stroke="#000" stroke-width="0.6" />
</g>
<path d="M799,722.6 L884.2,698.8 L884.2,721 Q884.2,725 880,726.3 L806,749 Q800,750.5 799.6,746 Z" fill="#85e387" stroke="#000" stroke-width="1.1" stroke-linejoin="round" stroke-linecap="round" />
<path d="M802.6,724.8 L878,703.3 Q881.4,702.6 881.4,705.8 L881.4,720 Q881.4,723 878.4,724 L807,746 Q802.6,747 802.6,743 Z" fill="#f4fff8" stroke="#000" stroke-width="0.9" stroke-linejoin="round" stroke-linecap="round" />
<polygon points="803.0,725.3 835.5,716.0 835.5,729.0 803.0,730.5" fill="#90e698" stroke="none" stroke-width="1" stroke-linejoin="round" />
<line x1="803.8" y1="731.2" x2="838.0" y2="734.5" stroke="#000" stroke-width="0.8" stroke-linecap="round" />
<line x1="838.0" y1="734.5" x2="845.0" y2="740.5" stroke="#000" stroke-width="0.8" stroke-linecap="round" />
<polygon points="803.8,731.6 837.5,735.0 844.0,740.8 808.0,744.3 803.8,742.0" fill="#f8fffa" stroke="none" stroke-width="1" stroke-linejoin="round" />
<polygon points="835.5,717.0 835.5,733.0 845.0,740.5 877.5,723.5 880.3,720.0 864.5,708.5" fill="#fbfffc" stroke="none" stroke-width="1" stroke-linejoin="round" />
<polygon points="864.5,707.6 878.0,703.8 881.0,705.3 881.0,721.0" fill="#68b66c" stroke="#000" stroke-width="0.8" stroke-linejoin="round" />
<line x1="835.5" y1="717.0" x2="835.5" y2="733.5" stroke="#000" stroke-width="0.8" stroke-linecap="round" />
<polygon points="690.9,703.8 736.8,692.3 800.0,709.0 799.0,710.7" fill="#eefff4" stroke="#000" stroke-width="1" stroke-linejoin="round" />
<polygon points="690.9,703.8 799.0,710.7 799.0,722.6 690.9,714.7" fill="#85e387" stroke="#000" stroke-width="1" stroke-linejoin="round" />
<polygon points="799.0,710.7 884.2,687.0 884.2,698.8 799.0,722.6" fill="#8ce090" stroke="#000" stroke-width="1" stroke-linejoin="round" />
<polygon points="690.9,715.0 799.0,722.9 799.0,728.3 690.9,719.5" fill="#fff" stroke="none" stroke-width="1" stroke-linejoin="round" />
<line x1="690.9" y1="715.5" x2="799.0" y2="723.4" stroke="#b5f0bb" stroke-width="1.3" stroke-linecap="round" />
<line x1="690.9" y1="714.7" x2="799.0" y2="722.6" stroke="#000" stroke-width="1" stroke-linecap="round" />
<path d="M736.8,680.2 L792,697 Q796.5,699.4 801,699 L801,711.8 Q796.5,712.2 792,710 L736.8,693 Z" fill="#b6afc6" stroke="#000" stroke-width="1" stroke-linejoin="round" stroke-linecap="round" />
<path d="M792,697 Q796.5,699.4 801,699 L801,711.8 Q796.5,712.2 792,710 Z" fill="#a199b6" stroke="#000" stroke-width="0.8" stroke-linejoin="round" stroke-linecap="round" />
<path d="M801,699 L882,674 L882,686.5 L801,711.8 Z" fill="#e7cbf5" stroke="#000" stroke-width="1" stroke-linejoin="round" stroke-linecap="round" />
<path d="M736.8,680.2 Q736,678.5 739,677.6 L818,652 L856.8,653.9 L880,671 Q883.5,673.5 882,674 L801,699 Q796.5,699.4 792,697 Z" fill="#f5f3fb" stroke="#000" stroke-width="1" stroke-linejoin="round" stroke-linecap="round" />
<ellipse cx="745.5" cy="680.3" rx="4.0" ry="1.5" fill="#d8d3e6" stroke="#000" stroke-width="0.7" />
<ellipse cx="795.5" cy="696.0" rx="4.0" ry="1.5" fill="#d8d3e6" stroke="#000" stroke-width="0.7" />
<ellipse cx="873.5" cy="673.0" rx="4.0" ry="1.5" fill="#d8d3e6" stroke="#000" stroke-width="0.7" />
<ellipse cx="826.0" cy="656.0" rx="4.0" ry="1.5" fill="#d8d3e6" stroke="#000" stroke-width="0.7" />
<polygon points="833.8,669.0 846.0,662.0 867.0,667.5 867.0,674.0 855.0,680.5 833.8,675.0" fill="#3f78ee" stroke="#000" stroke-width="0.9" stroke-linejoin="round" />
<polygon points="833.8,669.0 855.0,674.5 855.0,680.5 833.8,675.0" fill="#2b5fd6" stroke="#000" stroke-width="0.7" stroke-linejoin="round" />
<polygon points="855.0,674.5 867.0,667.5 867.0,674.0 855.0,680.5" fill="#2450c0" stroke="#000" stroke-width="0.7" stroke-linejoin="round" />
<ellipse cx="850.5" cy="668.5" rx="5.0" ry="2.0" fill="#2b5fd6" stroke="#000" stroke-width="0.6" />
<path d="M828,667 Q826,656 833,652 L848,650 Q852,656 851,667.6 Q840,672 828,667 Z" fill="#3f78ee" stroke="#000" stroke-width="0.9" stroke-linejoin="round" stroke-linecap="round" />
<path d="M829,662 Q835,654 845,656" fill="none" stroke="#9cc4fa" stroke-width="1.5" stroke-linejoin="round" stroke-linecap="round" />
<polygon points="774.7,638.5 811.3,649.9 811.3,676.0 774.7,664.0" fill="#93ab9b" stroke="#000" stroke-width="0.9" stroke-linejoin="round" />
<polygon points="774.7,638.5 781.0,636.0 818.0,647.5 811.3,649.9" fill="#b8c8bc" stroke="#000" stroke-width="0.7" stroke-linejoin="round" />
<polygon points="811.3,649.9 818.0,647.5 826.0,656.0 826.0,680.0 818.0,684.0 807.8,680.0" fill="#aeaec0" stroke="#000" stroke-width="0.8" stroke-linejoin="round" />
<path d="M807.8,682 L807.8,662 Q808,653.5 816,656 L825.9,661.8 L825.9,679.1 L818,684.5 Z" fill="#b4b4c4" stroke="#000" stroke-width="0.8" stroke-linejoin="round" stroke-linecap="round" />
<polygon points="818.0,684.5 825.9,679.1 825.9,668.0 818.0,672.0" fill="#e7cbf5" stroke="#000" stroke-width="0.7" stroke-linejoin="round" />
<path d="M818,672 L825.9,668 L825.9,661.8 Q822,658 818,660 Z" fill="#f6f0fa" stroke="#000" stroke-width="0.7" stroke-linejoin="round" stroke-linecap="round" />
<line x1="810.7" y1="662.0" x2="831.0" y2="654.8" stroke="#000" stroke-width="2.6" stroke-linecap="round" />
<line x1="810.7" y1="662.0" x2="831.0" y2="654.8" stroke="#d7926e" stroke-width="1.4" stroke-linecap="round" />
<ellipse cx="805.7" cy="664.7" rx="3.8" ry="4.2" fill="#c9a777" stroke="#000" stroke-width="0.8" />
<ellipse cx="805.2" cy="664.7" rx="2.0" ry="2.4" fill="#dcc090" stroke="#000" stroke-width="0.5" />
<g transform="translate(751.6,665)">
<polygon points="0.0,8.5 10.0,3.0 22.0,6.0 30.0,12.0 62.0,22.0 67.8,20.0 67.8,25.5 56.0,31.0 0.0,14.5" fill="#3f78ee" stroke="#000" stroke-width="0.9" stroke-linejoin="round" />
<polygon points="0.0,8.5 56.0,25.0 56.0,31.0 0.0,14.5" fill="#2b5fd6" stroke="#000" stroke-width="0.8" stroke-linejoin="round" />
<polygon points="56.0,25.0 67.8,20.0 67.8,25.5 56.0,31.0" fill="#2450c0" stroke="#000" stroke-width="0.7" stroke-linejoin="round" />
<ellipse cx="9.5" cy="8.5" rx="5.0" ry="2.2" fill="#2b5fd6" stroke="#000" stroke-width="0.6" />
<ellipse cx="55.0" cy="21.5" rx="5.0" ry="2.2" fill="#2b5fd6" stroke="#000" stroke-width="0.6" />
<line x1="18.0" y1="14.0" x2="18.0" y2="19.8" stroke="#000" stroke-width="0.7" stroke-linecap="round" />
<line x1="38.0" y1="19.8" x2="38.0" y2="25.6" stroke="#000" stroke-width="0.7" stroke-linecap="round" />
<linearGradient id="hsr" x1="14" x2="52" y1="-10" y2="10" gradientUnits="userSpaceOnUse"><stop offset="0" stop-color="#3f78ee"/><stop offset="0.45" stop-color="#5a98f6"/><stop offset="0.7" stop-color="#a6d4fd"/><stop offset="1" stop-color="#3f78ee"/></linearGradient>
<path d="M15,12 Q13,-4 19,-12 Q27,-18 37,-14 Q49,-8 51,8 L51,21.5 L40,19 L22,17 Z" fill="url(#hsr)" stroke="#000" stroke-width="0.9" stroke-linejoin="round" stroke-linecap="round" />
<ellipse cx="25.6" cy="3.4" rx="10.4" ry="15.0" fill="#2b5fd6" stroke="#000" stroke-width="0.9" transform="rotate(-8 25.6 3.4)"/>
<ellipse cx="26.0" cy="3.6" rx="8.0" ry="11.6" fill="#4a84f0" stroke="#000" stroke-width="0.8" transform="rotate(-8 26 3.6)"/>
<ellipse cx="26.3" cy="3.9" rx="5.6" ry="8.0" fill="#2b5fd6" stroke="#000" stroke-width="0.8" transform="rotate(-8 26.3 3.9)"/>
<ellipse cx="26.5" cy="4.2" rx="3.0" ry="4.4" fill="#f4f0f8" stroke="#000" stroke-width="0.7" transform="rotate(-8 26.5 4.2)"/>
<rect x="31.0" y="-21.5" width="3.0" height="5.0" fill="#3f78ee" stroke="#000" stroke-width="0.6" />
<ellipse cx="32.5" cy="-22.0" rx="2.2" ry="1.5" fill="#3f78ee" stroke="#000" stroke-width="0.6" />
</g>
<polygon points="635.6,445.6 675.8,449.2 698.9,424.5 680.0,423.0 641.0,439.5" fill="#fff" stroke="#000" stroke-width="1" stroke-linejoin="round" />
<polygon points="680.0,366.0 686.5,367.0 686.5,437.0 680.0,437.0" fill="#9c9ce6" stroke="#000" stroke-width="0.9" stroke-linejoin="round" />
<polygon points="686.5,367.0 692.7,361.0 692.7,431.0 686.5,437.0" fill="#8484d4" stroke="#000" stroke-width="0.9" stroke-linejoin="round" />
<polygon points="680.0,354.0 687.3,353.4 692.7,361.0 686.5,367.0 680.0,366.0" fill="#fff" stroke="#000" stroke-width="1" stroke-linejoin="round" />
<path d="M680,353.6 L685.5,353 Q689,353.4 689.8,357.5" fill="none" stroke="#000" stroke-width="1.6" stroke-linejoin="round" stroke-linecap="round" />
<line x1="680.0" y1="375.0" x2="686.5" y2="376.0" stroke="#000" stroke-width="0.8" stroke-linecap="round" />
<line x1="686.5" y1="376.0" x2="692.7" y2="370.0" stroke="#000" stroke-width="0.8" stroke-linecap="round" />
<line x1="682.6" y1="376.0" x2="682.6" y2="437.0" stroke="#000" stroke-width="1.1" stroke-linecap="round" />
<line x1="684.8" y1="376.0" x2="684.8" y2="437.0" stroke="#4a4aa0" stroke-width="0.8" stroke-linecap="round" />
<rect x="681.0" y="430.0" width="5.0" height="7.0" fill="#c4c4f2" stroke="#000" stroke-width="0.6" />
<rect x="640.9" y="140.0" width="1.2" height="292.0" fill="#000" stroke="none" stroke-width="1" />
<rect x="642.1" y="140.0" width="2.0" height="292.0" fill="#e0a880" stroke="none" stroke-width="1" />
<rect x="644.1" y="140.0" width="1.2" height="292.0" fill="#1a0e08" stroke="none" stroke-width="1" />
<rect x="645.3" y="140.0" width="1.7" height="292.0" fill="#b88060" stroke="none" stroke-width="1" />
<rect x="647.0" y="140.0" width="1.1" height="292.0" fill="#000" stroke="none" stroke-width="1" />
<rect x="648.1" y="140.0" width="16.1" height="292.0" fill="#c89878" stroke="none" stroke-width="1" />
<rect x="664.2" y="140.0" width="1.2" height="292.0" fill="#000" stroke="none" stroke-width="1" />
<rect x="665.4" y="140.0" width="1.4" height="292.0" fill="#5a4030" stroke="none" stroke-width="1" />
<rect x="666.8" y="140.0" width="1.0" height="292.0" fill="#000" stroke="none" stroke-width="1" />
<rect x="667.8" y="140.0" width="2.8" height="292.0" fill="#d0a080" stroke="none" stroke-width="1" />
<rect x="670.6" y="140.0" width="1.6" height="292.0" fill="#f0b0a0" stroke="none" stroke-width="1" />
<rect x="672.2" y="140.0" width="1.2" height="292.0" fill="#000" stroke="none" stroke-width="1" />
<rect x="673.4" y="140.0" width="3.2" height="292.0" fill="#5a4030" stroke="none" stroke-width="1" />
<rect x="676.6" y="140.0" width="2.4" height="292.0" fill="#b08060" stroke="none" stroke-width="1" />
<rect x="679.0" y="140.0" width="1.0" height="292.0" fill="#000" stroke="none" stroke-width="1" />
<ellipse cx="650.5" cy="377.4" rx="1.9" ry="1.9" fill="#e8d8cc" stroke="#000" stroke-width="0.8" />
<ellipse cx="662.0" cy="378.0" rx="1.9" ry="1.9" fill="#e8d8cc" stroke="#000" stroke-width="0.8" />
<ellipse cx="650.5" cy="400.4" rx="1.3" ry="1.3" fill="#e8d8cc" stroke="#000" stroke-width="0.8" />
<ellipse cx="662.0" cy="401.0" rx="1.3" ry="1.3" fill="#e8d8cc" stroke="#000" stroke-width="0.8" />
<ellipse cx="650.5" cy="412.3" rx="1.9" ry="1.9" fill="#e8d8cc" stroke="#000" stroke-width="0.8" />
<ellipse cx="662.0" cy="413.0" rx="1.9" ry="1.9" fill="#e8d8cc" stroke="#000" stroke-width="0.8" />
<ellipse cx="649.7" cy="161.3" rx="1.8" ry="1.8" fill="#e8d8cc" stroke="#000" stroke-width="0.8" />
<ellipse cx="661.6" cy="161.9" rx="1.8" ry="1.8" fill="#e8d8cc" stroke="#000" stroke-width="0.8" />
<polygon points="638.0,120.0 684.0,120.0 684.0,237.2 638.0,233.2" fill="#fff" stroke="none" stroke-width="1" stroke-linejoin="round" opacity="0.42"/>
<polygon points="640.6,135.0 649.0,126.0 673.0,126.0 679.6,131.5 679.6,139.5 671.0,144.6 648.0,144.6 640.6,143.0" fill="#5c5c5c" stroke="#4a4a4a" stroke-width="0.8" stroke-linejoin="round" />
<polygon points="641.0,428.0 671.8,431.6 679.9,423.7 679.9,438.8 673.2,447.8 643.0,444.8 641.0,441.0" fill="#000" stroke="#000" stroke-width="0.8" stroke-linejoin="round" />
<polygon points="635.6,445.6 675.8,449.2 675.8,472.9 635.6,470.0" fill="#d6d3a6" stroke="#000" stroke-width="1" stroke-linejoin="round" />
<polygon points="675.8,449.2 698.9,424.5 698.9,450.7 675.8,472.9" fill="#c7bd96" stroke="#000" stroke-width="1" stroke-linejoin="round" />
<polygon points="781.0,613.3 836.6,628.4 869.0,622.0 850.0,612.0 790.0,606.0" fill="#fff" stroke="#000" stroke-width="1" stroke-linejoin="round" />
<rect x="786.8" y="308.0" width="3.9" height="296.0" fill="#0c0604" stroke="none" stroke-width="1" />
<rect x="790.7" y="308.0" width="1.2" height="296.0" fill="#d8a078" stroke="none" stroke-width="1" />
<rect x="791.9" y="308.0" width="0.8" height="296.0" fill="#000" stroke="none" stroke-width="1" />
<rect x="792.7" y="308.0" width="1.6" height="296.0" fill="#a07868" stroke="none" stroke-width="1" />
<rect x="794.3" y="308.0" width="1.6" height="296.0" fill="#000" stroke="none" stroke-width="1" />
<rect x="795.9" y="308.0" width="3.2" height="296.0" fill="#d8a880" stroke="none" stroke-width="1" />
<rect x="799.1" y="308.0" width="1.5" height="296.0" fill="#000" stroke="none" stroke-width="1" />
<rect x="800.6" y="308.0" width="0.7" height="296.0" fill="#4a3030" stroke="none" stroke-width="1" />
<rect x="801.3" y="308.0" width="3.8" height="296.0" fill="#000" stroke="none" stroke-width="1" />
<rect x="805.1" y="308.0" width="0.9" height="296.0" fill="#e4b48c" stroke="none" stroke-width="1" />
<rect x="806.0" y="308.0" width="4.8" height="296.0" fill="#c89878" stroke="none" stroke-width="1" />
<rect x="810.8" y="308.0" width="1.2" height="296.0" fill="#000" stroke="none" stroke-width="1" />
<rect x="812.0" y="308.0" width="0.6" height="296.0" fill="#b08060" stroke="none" stroke-width="1" />
<rect x="812.6" y="308.0" width="1.4" height="296.0" fill="#000" stroke="none" stroke-width="1" />
<rect x="814.0" y="308.0" width="12.0" height="296.0" fill="#f8bab2" stroke="none" stroke-width="1" />
<rect x="826.0" y="308.0" width="0.8" height="296.0" fill="#000" stroke="none" stroke-width="1" />
<rect x="826.8" y="308.0" width="1.7" height="296.0" fill="#c89070" stroke="none" stroke-width="1" />
<rect x="828.5" y="308.0" width="1.7" height="296.0" fill="#000" stroke="none" stroke-width="1" />
<polygon points="786.4,302.0 800.0,299.0 822.0,299.0 830.2,304.0 830.2,312.0 810.2,317.0 786.4,310.5" fill="#000" stroke="#000" stroke-width="0.8" stroke-linejoin="round" />
<polygon points="787.0,596.9 807.4,603.1 807.4,618.9 787.0,611.7" fill="#121212" stroke="#000" stroke-width="0.8" stroke-linejoin="round" />
<polygon points="807.4,603.1 830.3,599.0 830.3,615.0 807.4,618.9" fill="#281e2e" stroke="#000" stroke-width="0.8" stroke-linejoin="round" />
<polygon points="817.7,556.0 838.5,562.0 838.5,631.0 817.7,625.0" fill="#a6a6ea" stroke="#000" stroke-width="0.9" stroke-linejoin="round" />
<polygon points="838.5,562.0 859.3,553.0 859.3,622.0 838.5,631.0" fill="#e6d2f8" stroke="#000" stroke-width="0.9" stroke-linejoin="round" />
<polygon points="833.0,560.5 838.5,562.0 838.5,631.0 833.0,629.4" fill="#8c8cd8" stroke="#000" stroke-width="0.7" stroke-linejoin="round" />
<polygon points="838.5,562.0 842.5,560.3 842.5,629.3 838.5,631.0" fill="#b0a8e4" stroke="#000" stroke-width="0.7" stroke-linejoin="round" />
<line x1="835.5" y1="563.0" x2="835.5" y2="629.0" stroke="#000" stroke-width="1.2" stroke-linecap="round" />
<line x1="832.3" y1="560.5" x2="832.3" y2="628.5" stroke="#000" stroke-width="1.3" stroke-linecap="round" />
<line x1="840.6" y1="561.5" x2="840.6" y2="630.0" stroke="#000" stroke-width="1.1" stroke-linecap="round" />
<polygon points="817.0,555.0 822.2,549.8 832.5,546.9 844.0,546.9 858.6,551.5 859.3,553.5 842.5,560.3 838.5,562.3 831.4,559.8" fill="#fff" stroke="#000" stroke-width="1" stroke-linejoin="round" />
<line x1="817.7" y1="564.0" x2="833.0" y2="568.5" stroke="#000" stroke-width="0.8" stroke-linecap="round" />
<line x1="842.5" y1="567.5" x2="859.3" y2="560.5" stroke="#000" stroke-width="0.8" stroke-linecap="round" />
<polygon points="846.0,568.0 856.5,563.5 857.5,566.0 857.5,583.0 851.0,587.0 846.0,584.0" fill="#e6d2f8" stroke="#000" stroke-width="0.8" stroke-linejoin="round" />
<polygon points="848.0,571.5 855.0,568.5 855.0,582.0 850.5,584.5 848.0,582.0" fill="#cfc6ee" stroke="#000" stroke-width="0.7" stroke-linejoin="round" />
<line x1="844.5" y1="561.0" x2="857.0" y2="556.0" stroke="#000" stroke-width="0.8" stroke-linecap="round" />
<polygon points="846.0,598.0 856.5,592.5 857.5,596.0 857.5,606.0 846.0,611.0" fill="#e6d2f8" stroke="#000" stroke-width="0.8" stroke-linejoin="round" />
<polygon points="847.5,600.5 853.0,598.0 853.0,606.0 847.5,608.5" fill="#9c9ce0" stroke="#000" stroke-width="0.6" stroke-linejoin="round" />
<path d="M856,603 q-3,2 -1,4 q3,1 0,4" fill="none" stroke="#000" stroke-width="0.9" stroke-linejoin="round" stroke-linecap="round" />
<ellipse cx="851.0" cy="619.0" rx="3.0" ry="2.4" fill="#fff" stroke="#000" stroke-width="0.7" />
<line x1="847.0" y1="614.5" x2="857.5" y2="610.0" stroke="#000" stroke-width="0.7" stroke-linecap="round" />
<polygon points="781.0,613.3 836.6,628.4 836.6,655.0 781.0,637.2" fill="#d6d3a6" stroke="#000" stroke-width="1" stroke-linejoin="round" />
<polygon points="836.6,628.4 869.0,622.0 869.0,646.0 836.6,655.0" fill="#c7bd96" stroke="#000" stroke-width="1" stroke-linejoin="round" />
<g transform="translate(236.0,167.7)" opacity="1.0">
<path d="M-9.2,75 L-9.2,87 Q0,91 9.2,87 L9.2,75 Z" fill="#c3b5d3" stroke="#000" stroke-width="0.9" stroke-linejoin="round" stroke-linecap="round" />
<ellipse cx="0.0" cy="75.0" rx="9.2" ry="2.6" fill="#eee8f4" stroke="#000" stroke-width="0.8" />
<ellipse cx="0.0" cy="75.2" rx="5.5" ry="1.5" fill="#d8cfe4" stroke="#000" stroke-width="0.6" />
<rect x="-5.0" y="66.5" width="10.0" height="8.7" fill="#cdbfdc" stroke="#000" stroke-width="0.7" />
<path d="M-8.7,62 L-8.7,65.5 Q0,68.8 8.7,65.5 L8.7,62 Q0,65 -8.7,62 Z" fill="#a9c4ee" stroke="#000" stroke-width="0.8" stroke-linejoin="round" stroke-linecap="round" />
<ellipse cx="0.0" cy="62.0" rx="8.7" ry="2.2" fill="#dfeaf8" stroke="#000" stroke-width="0.7" />
<path d="M-6.8,50 L-6.8,61.5 Q0,63.6 6.8,61.5 L6.8,50 Z" fill="#8aa2e6" stroke="#000" stroke-width="0.8" stroke-linejoin="round" stroke-linecap="round" />
<linearGradient id="cone236" x1="-13" x2="13" y1="0" y2="0" gradientUnits="userSpaceOnUse"><stop offset="0" stop-color="#46649e"/><stop offset="0.45" stop-color="#7f9bd0"/><stop offset="1" stop-color="#4a68a4"/></linearGradient>
<path d="M-12.8,37.5 Q-12,45 -6.8,51 Q0,53 6.8,51 Q12,45 12.8,37.5 Q0,42 -12.8,37.5 Z" fill="url(#cone236)" stroke="#000" stroke-width="0.9" stroke-linejoin="round" stroke-linecap="round" />
<path d="M-11.5,40 Q0,44.5 11.5,40" fill="none" stroke="#000" stroke-width="0.6" stroke-linejoin="round" stroke-linecap="round" />
<ellipse cx="0.0" cy="29.0" rx="13.4" ry="5.4" fill="#9d9d9d" stroke="#777" stroke-width="0.6" />
<path d="M-13.6,31 L-13.2,35.5 Q0,42.5 13.2,35.5 L13.6,31 Q0,39 -13.6,31 Z" fill="#000" stroke="#000" stroke-width="0.8" stroke-linejoin="round" stroke-linecap="round" />
<rect x="-7.2" y="24.5" width="14.0" height="6.5" fill="#d4d4d4" stroke="#777" stroke-width="0.6" />
<line x1="-2.0" y1="24.5" x2="-2.0" y2="31.0" stroke="#888" stroke-width="0.5" stroke-linecap="round" />
<line x1="3.0" y1="24.5" x2="3.0" y2="31.0" stroke="#888" stroke-width="0.5" stroke-linecap="round" />
<linearGradient id="stud236" x1="-5.4" x2="5.4" y1="0" y2="0" gradientUnits="userSpaceOnUse"><stop offset="0" stop-color="#d8d8d8"/><stop offset="0.35" stop-color="#f2f2f2"/><stop offset="0.7" stop-color="#cfcfcf"/><stop offset="1" stop-color="#b4b4b4"/></linearGradient>
<path d="M-5.4,1.6 L-5.4,26 L5.4,26 L5.4,1.6 Z" fill="url(#stud236)" stroke="#555" stroke-width="0.7" stroke-linejoin="round" stroke-linecap="round" />
<ellipse cx="0.0" cy="1.6" rx="5.4" ry="1.6" fill="#f4f4f4" stroke="#333" stroke-width="0.8" />
</g>
<g transform="translate(660.3,42.4)" opacity="0.62">
<path d="M-9.2,75 L-9.2,87 Q0,91 9.2,87 L9.2,75 Z" fill="#c3b5d3" stroke="#000" stroke-width="0.9" stroke-linejoin="round" stroke-linecap="round" />
<ellipse cx="0.0" cy="75.0" rx="9.2" ry="2.6" fill="#eee8f4" stroke="#000" stroke-width="0.8" />
<ellipse cx="0.0" cy="75.2" rx="5.5" ry="1.5" fill="#d8cfe4" stroke="#000" stroke-width="0.6" />
<rect x="-5.0" y="66.5" width="10.0" height="8.7" fill="#cdbfdc" stroke="#000" stroke-width="0.7" />
<path d="M-8.7,62 L-8.7,65.5 Q0,68.8 8.7,65.5 L8.7,62 Q0,65 -8.7,62 Z" fill="#a9c4ee" stroke="#000" stroke-width="0.8" stroke-linejoin="round" stroke-linecap="round" />
<ellipse cx="0.0" cy="62.0" rx="8.7" ry="2.2" fill="#dfeaf8" stroke="#000" stroke-width="0.7" />
<path d="M-6.8,50 L-6.8,61.5 Q0,63.6 6.8,61.5 L6.8,50 Z" fill="#8aa2e6" stroke="#000" stroke-width="0.8" stroke-linejoin="round" stroke-linecap="round" />
<linearGradient id="cone660" x1="-13" x2="13" y1="0" y2="0" gradientUnits="userSpaceOnUse"><stop offset="0" stop-color="#46649e"/><stop offset="0.45" stop-color="#7f9bd0"/><stop offset="1" stop-color="#4a68a4"/></linearGradient>
<path d="M-12.8,37.5 Q-12,45 -6.8,51 Q0,53 6.8,51 Q12,45 12.8,37.5 Q0,42 -12.8,37.5 Z" fill="url(#cone660)" stroke="#000" stroke-width="0.9" stroke-linejoin="round" stroke-linecap="round" />
<path d="M-11.5,40 Q0,44.5 11.5,40" fill="none" stroke="#000" stroke-width="0.6" stroke-linejoin="round" stroke-linecap="round" />
<ellipse cx="0.0" cy="31.5" rx="13.6" ry="5.8" fill="#111" stroke="#000" stroke-width="0.8" />
<ellipse cx="0.0" cy="29.3" rx="9.0" ry="3.0" fill="#9a9a9a" stroke="#000" stroke-width="0.6" />
<path d="M-13.6,31.5 L-13.2,35.5 Q0,42.5 13.2,35.5 L13.6,31.5 Q0,38.5 -13.6,31.5 Z" fill="#000" stroke="#000" stroke-width="0.8" stroke-linejoin="round" stroke-linecap="round" />
<rect x="-7.2" y="24.5" width="14.0" height="6.5" fill="#d4d4d4" stroke="#777" stroke-width="0.6" />
<line x1="-2.0" y1="24.5" x2="-2.0" y2="31.0" stroke="#888" stroke-width="0.5" stroke-linecap="round" />
<line x1="3.0" y1="24.5" x2="3.0" y2="31.0" stroke="#888" stroke-width="0.5" stroke-linecap="round" />
<linearGradient id="stud660" x1="-5.4" x2="5.4" y1="0" y2="0" gradientUnits="userSpaceOnUse"><stop offset="0" stop-color="#d8d8d8"/><stop offset="0.35" stop-color="#f2f2f2"/><stop offset="0.7" stop-color="#cfcfcf"/><stop offset="1" stop-color="#b4b4b4"/></linearGradient>
<path d="M-5.4,1.6 L-5.4,26 L5.4,26 L5.4,1.6 Z" fill="url(#stud660)" stroke="#555" stroke-width="0.7" stroke-linejoin="round" stroke-linecap="round" />
<ellipse cx="0.0" cy="1.6" rx="5.4" ry="1.6" fill="#f4f4f4" stroke="#333" stroke-width="0.8" />
</g>
<g transform="translate(808.5,214.0)" opacity="1.0">
<path d="M-9.2,75 L-9.2,87 Q0,91 9.2,87 L9.2,75 Z" fill="#c3b5d3" stroke="#000" stroke-width="0.9" stroke-linejoin="round" stroke-linecap="round" />
<ellipse cx="0.0" cy="75.0" rx="9.2" ry="2.6" fill="#eee8f4" stroke="#000" stroke-width="0.8" />
<ellipse cx="0.0" cy="75.2" rx="5.5" ry="1.5" fill="#d8cfe4" stroke="#000" stroke-width="0.6" />
<rect x="-5.0" y="66.5" width="10.0" height="8.7" fill="#cdbfdc" stroke="#000" stroke-width="0.7" />
<path d="M-8.7,62 L-8.7,65.5 Q0,68.8 8.7,65.5 L8.7,62 Q0,65 -8.7,62 Z" fill="#a9c4ee" stroke="#000" stroke-width="0.8" stroke-linejoin="round" stroke-linecap="round" />
<ellipse cx="0.0" cy="62.0" rx="8.7" ry="2.2" fill="#dfeaf8" stroke="#000" stroke-width="0.7" />
<path d="M-6.8,50 L-6.8,61.5 Q0,63.6 6.8,61.5 L6.8,50 Z" fill="#8aa2e6" stroke="#000" stroke-width="0.8" stroke-linejoin="round" stroke-linecap="round" />
<linearGradient id="cone808" x1="-13" x2="13" y1="0" y2="0" gradientUnits="userSpaceOnUse"><stop offset="0" stop-color="#46649e"/><stop offset="0.45" stop-color="#7f9bd0"/><stop offset="1" stop-color="#4a68a4"/></linearGradient>
<path d="M-12.8,37.5 Q-12,45 -6.8,51 Q0,53 6.8,51 Q12,45 12.8,37.5 Q0,42 -12.8,37.5 Z" fill="url(#cone808)" stroke="#000" stroke-width="0.9" stroke-linejoin="round" stroke-linecap="round" />
<path d="M-11.5,40 Q0,44.5 11.5,40" fill="none" stroke="#000" stroke-width="0.6" stroke-linejoin="round" stroke-linecap="round" />
<ellipse cx="0.0" cy="31.5" rx="13.6" ry="5.8" fill="#111" stroke="#000" stroke-width="0.8" />
<ellipse cx="0.0" cy="29.3" rx="9.0" ry="3.0" fill="#9a9a9a" stroke="#000" stroke-width="0.6" />
<path d="M-13.6,31.5 L-13.2,35.5 Q0,42.5 13.2,35.5 L13.6,31.5 Q0,38.5 -13.6,31.5 Z" fill="#000" stroke="#000" stroke-width="0.8" stroke-linejoin="round" stroke-linecap="round" />
<rect x="-7.2" y="24.5" width="14.0" height="6.5" fill="#d4d4d4" stroke="#777" stroke-width="0.6" />
<line x1="-2.0" y1="24.5" x2="-2.0" y2="31.0" stroke="#888" stroke-width="0.5" stroke-linecap="round" />
<line x1="3.0" y1="24.5" x2="3.0" y2="31.0" stroke="#888" stroke-width="0.5" stroke-linecap="round" />
<linearGradient id="stud808" x1="-5.4" x2="5.4" y1="0" y2="0" gradientUnits="userSpaceOnUse"><stop offset="0" stop-color="#d8d8d8"/><stop offset="0.35" stop-color="#f2f2f2"/><stop offset="0.7" stop-color="#cfcfcf"/><stop offset="1" stop-color="#b4b4b4"/></linearGradient>
<path d="M-5.4,1.6 L-5.4,26 L5.4,26 L5.4,1.6 Z" fill="url(#stud808)" stroke="#555" stroke-width="0.7" stroke-linejoin="round" stroke-linecap="round" />
<ellipse cx="0.0" cy="1.6" rx="5.4" ry="1.6" fill="#f4f4f4" stroke="#333" stroke-width="0.8" />
</g>
<polyline points="196.4,164.2 608.3,43.3 724.6,53.0 869.5,219.4" fill="none" stroke="#2a2a2a" stroke-width="1.15" stroke-linejoin="round" stroke-linecap="round" />
<polyline points="869.5,219.4 782.5,245.0 225.6,199.6 196.4,164.2" fill="none" stroke="#000" stroke-width="1.5" stroke-linejoin="round" stroke-linecap="round" />
<line x1="196.6" y1="152.8" x2="196.4" y2="164.2" stroke="#000" stroke-width="1.3" stroke-linecap="round" />
<line x1="608.3" y1="31.6" x2="608.3" y2="43.3" stroke="#000" stroke-width="1.3" stroke-linecap="round" />
<line x1="725.4" y1="41.5" x2="724.6" y2="53.0" stroke="#000" stroke-width="1.3" stroke-linecap="round" />
<line x1="869.5" y1="207.7" x2="869.5" y2="219.4" stroke="#000" stroke-width="1.3" stroke-linecap="round" />
<line x1="782.5" y1="233.2" x2="782.5" y2="245.0" stroke="#000" stroke-width="1.3" stroke-linecap="round" />
<line x1="225.0" y1="188.5" x2="225.6" y2="199.6" stroke="#000" stroke-width="1.3" stroke-linecap="round" />
<polygon points="196.6,152.8 608.3,31.6 725.4,41.5 869.5,207.7 782.5,233.2 225.0,188.5" fill="none" stroke="#000" stroke-width="1.5" stroke-linejoin="round" />
<radialGradient id="eyeg" cx="0.5" cy="0.5" r="0.5"><stop offset="0.45" stop-color="#9a9a9a"/><stop offset="0.62" stop-color="#f2f2f2"/><stop offset="0.8" stop-color="#ffffff"/><stop offset="1" stop-color="#e0e0e0"/></radialGradient>
<polygon points="296.2,568.0 316.8,568.0 316.8,577.7 309.0,580.2 298.7,579.4 296.2,577.2" fill="#f6f2f8" stroke="#000" stroke-width="0.9" stroke-linejoin="round" />
<line x1="298.7" y1="569.5" x2="298.7" y2="579.4" stroke="#000" stroke-width="0.8" stroke-linecap="round" />
<line x1="309.0" y1="570.5" x2="309.0" y2="580.2" stroke="#000" stroke-width="0.8" stroke-linecap="round" />
<path d="M297.3,561.6 L294.3,565.8 Q306.5,572.3 318.7,565.8 L315.7,561.6 Z" fill="#fafafa" stroke="#000" stroke-width="0.9" stroke-linejoin="round" stroke-linecap="round" />
<g transform="rotate(-10 306 545.2)">
<path d="M290.4,545.2 A15.6,21.6 0 1 0 321.6,545.2 A15.6,21.6 0 1 0 290.4,545.2 Z M300.0,546.0 A6.0,12.2 0 1 1 312.0,546.0 A6.0,12.2 0 1 1 300.0,546.0 Z" fill="url(#eyeg)" fill-rule="evenodd" stroke="#000" stroke-width="0.9"/>
</g>
<path d="M297.8,561.8000000000001 Q306.5,565.1 315.2,561.8000000000001" fill="none" stroke="#000" stroke-width="0.7" stroke-linejoin="round" stroke-linecap="round" />
<polygon points="458.0,755.0 478.7,755.0 478.7,765.0 470.8,767.5 460.5,766.7 458.0,764.5" fill="#f6f2f8" stroke="#000" stroke-width="0.9" stroke-linejoin="round" />
<line x1="460.5" y1="756.5" x2="460.5" y2="766.7" stroke="#000" stroke-width="0.8" stroke-linecap="round" />
<line x1="470.8" y1="757.5" x2="470.8" y2="767.5" stroke="#000" stroke-width="0.8" stroke-linecap="round" />
<path d="M458.7,746 L455.7,752 Q468.35,758.5 481,752 L478,746 Z" fill="#fafafa" stroke="#000" stroke-width="0.9" stroke-linejoin="round" stroke-linecap="round" />
<g transform="rotate(6 468.3 732.4)">
<path d="M456.5,732.4 A11.8,22 0 1 0 480.1,732.4 A11.8,22 0 1 0 456.5,732.4 Z M465.40000000000003,733.1999999999999 A2.9,12.4 0 1 1 471.2,733.1999999999999 A2.9,12.4 0 1 1 465.40000000000003,733.1999999999999 Z" fill="url(#eyeg)" fill-rule="evenodd" stroke="#000" stroke-width="0.9"/>
</g>
<path d="M459.2,746.2 Q468.35,749.5 477.5,746.2" fill="none" stroke="#000" stroke-width="0.7" stroke-linejoin="round" stroke-linecap="round" />
<polygon points="922.0,618.8 942.8,618.8 942.8,628.7 934.9,631.2 924.5,630.4 922.0,628.2" fill="#f6f2f8" stroke="#000" stroke-width="0.9" stroke-linejoin="round" />
<line x1="924.5" y1="620.3" x2="924.5" y2="630.4" stroke="#000" stroke-width="0.8" stroke-linecap="round" />
<line x1="934.9" y1="621.3" x2="934.9" y2="631.2" stroke="#000" stroke-width="0.8" stroke-linecap="round" />
<path d="M922.4,610.7 L919.4,615.8 Q932.0,622.3 944.6,615.8 L941.6,610.7 Z" fill="#fafafa" stroke="#000" stroke-width="0.9" stroke-linejoin="round" stroke-linecap="round" />
<g transform="rotate(0 932.2 595)">
<path d="M910.2,595 A22,20.4 0 1 0 954.2,595 A22,20.4 0 1 0 910.2,595 Z M920.6,595.8 A11.6,10.8 0 1 1 943.8000000000001,595.8 A11.6,10.8 0 1 1 920.6,595.8 Z" fill="url(#eyeg)" fill-rule="evenodd" stroke="#000" stroke-width="0.9"/>
</g>
<path d="M922.9,610.9000000000001 Q932.0,614.2 941.1,610.9000000000001" fill="none" stroke="#000" stroke-width="0.7" stroke-linejoin="round" stroke-linecap="round" />
<use href="#wm" transform="translate(25,331) rotate(-45.1)"/>
<use href="#wm" transform="translate(588,331) rotate(-45.1)"/>
<use href="#wm" transform="translate(25,893) rotate(-45.1)"/>
<use href="#wm" transform="translate(588,893) rotate(-45.1)"/>
</svg>
</body></html>
